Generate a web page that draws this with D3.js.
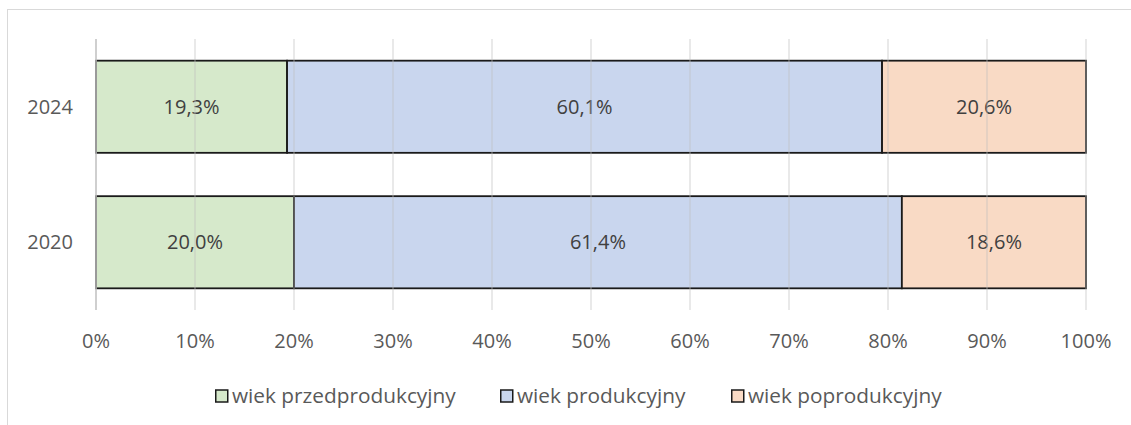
<!DOCTYPE html>
<html>
<head>
<meta charset="utf-8">
<script src="https://cdn.jsdelivr.net/npm/d3@7"></script>
<style>
  body { margin: 0; background: #fff; }
  text { font-family: "Open Sans", "Noto Sans", sans-serif; }
</style>
</head>
<body>
<div id="chart"></div>
<script>
// Data
var years = ["2024", "2020"];
var seriesNames = ["wiek przedprodukcyjny", "wiek produkcyjny", "wiek poprodukcyjny"];
var przed = [19.3, 20.0];
var prod = [60.1, 61.4];
var popr = [20.6, 18.6];
var ticks = [0, 10, 20, 30, 40, 50, 60, 70, 80, 90, 100];

var colors = ["#d6e9cb", "#c9d6ee", "#f9dac5"];

var W = 1131, H = 425;
var fs = "20px";
var svg = d3.select("#chart").append("svg")
    .attr("width", W)
    .attr("height", H);

// chart frame (only left and top visible)
svg.append("rect")
    .attr("x", 7.5).attr("y", 9.5)
    .attr("width", 1200).attr("height", 500)
    .attr("fill", "none")
    .attr("stroke", "#d9d9d9")
    .attr("stroke-width", 1);

var x = d3.scaleLinear().domain([0, 100]).range([96, 1086]);
var y = d3.scaleBand().domain(years).range([39, 310]).paddingInner(0.32).paddingOuter(0.16);

// stacked rows
var rows = years.map(function (yr, i) {
    return { year: yr, v: [przed[i], prod[i], popr[i]] };
});
var stack = d3.stack().keys([0, 1, 2]).value(function (d, k) { return d.v[k]; });
var layers = stack(rows);

var g = svg.append("g");
layers.forEach(function (layer, k) {
    g.selectAll(null)
        .data(layer)
        .enter()
        .append("rect")
        .attr("x", function (d) { return x(d[0]); })
        .attr("y", function (d) { return y(d.data.year); })
        .attr("width", function (d) { return x(d[1]) - x(d[0]); })
        .attr("height", y.bandwidth())
        .attr("fill", colors[k])
        .attr("stroke", "#1a1a1a")
        .attr("stroke-width", 1.8);
});

// gridlines drawn over bars, faint
svg.append("g").selectAll("line")
    .data(ticks.slice(1))
    .enter()
    .append("line")
    .attr("x1", function (d) { return x(d); })
    .attr("x2", function (d) { return x(d); })
    .attr("y1", 39).attr("y2", 310)
    .attr("stroke", "#bfbfbf")
    .attr("stroke-opacity", 0.45)
    .attr("stroke-width", 1.5);

// category axis line
svg.append("line")
    .attr("x1", x(0)).attr("x2", x(0))
    .attr("y1", 39).attr("y2", 310)
    .attr("stroke", "#bfbfbf")
    .attr("stroke-width", 1.5);

// value labels
layers.forEach(function (layer, k) {
    g.selectAll(null)
        .data(layer)
        .enter()
        .append("text")
        .attr("x", function (d) { return (x(d[0]) + x(d[1])) / 2; })
        .attr("y", function (d) { return y(d.data.year) + y.bandwidth() / 2; })
        .attr("dy", "0.35em")
        .attr("text-anchor", "middle")
        .style("font-size", fs)
        .attr("fill", "#404040")
        .text(function (d) { return d.data.v[k].toFixed(1).replace(".", ",") + "%"; });
});

// year labels
svg.selectAll(".ylab")
    .data(years)
    .enter()
    .append("text")
    .attr("x", 73)
    .attr("y", function (d) { return y(d) + y.bandwidth() / 2; })
    .attr("dy", "0.35em")
    .attr("text-anchor", "end")
    .style("font-size", fs)
    .attr("fill", "#595959")
    .text(function (d) { return d; });

// x tick labels
svg.selectAll(".xlab")
    .data(ticks)
    .enter()
    .append("text")
    .attr("x", function (d) { return x(d); })
    .attr("y", 341)
    .attr("dy", "0.35em")
    .attr("text-anchor", "middle")
    .style("font-size", fs)
    .attr("fill", "#595959")
    .text(function (d) { return d + "%"; });

// legend
var legendX = [215, 500, 731];
var leg = svg.selectAll(".leg")
    .data(seriesNames)
    .enter()
    .append("g")
    .attr("transform", function (d, i) { return "translate(" + legendX[i] + ",396)"; });
leg.append("rect")
    .attr("x", 0.75).attr("y", -6)
    .attr("width", 12).attr("height", 12)
    .attr("fill", function (d, i) { return colors[i]; })
    .attr("stroke", "#1a1a1a")
    .attr("stroke-width", 1.5);
leg.append("text")
    .attr("x", 17)
    .attr("dy", "0.35em")
    .style("font-size", "20.8px")
    .attr("fill", "#595959")
    .text(function (d) { return d; });
</script>
</body>
</html>
